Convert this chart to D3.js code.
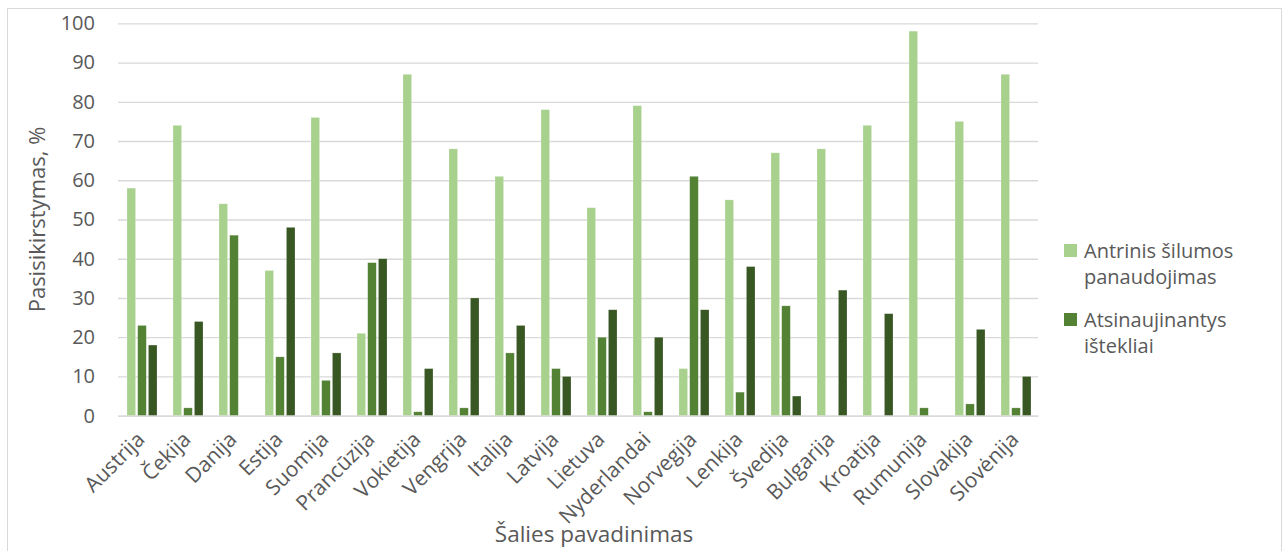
<!DOCTYPE html>
<html>
<head>
<meta charset="utf-8">
<script src="https://cdn.jsdelivr.net/npm/d3@7"></script>
<style>
  html, body { margin: 0; padding: 0; background: #fff; }
  svg { display: block; }
  text { font-family: "Open Sans", sans-serif; fill: #595959; }
</style>
</head>
<body>
<svg id="chart" width="1285" height="551"></svg>
<script>
const countries = ["Austrija","Čekija","Danija","Estija","Suomija","Prancūzija","Vokietija","Vengrija","Italija","Latvija","Lietuva","Nyderlandai","Norvegija","Lenkija","Švedija","Bulgarija","Kroatija","Rumunija","Slovakija","Slovėnija"];
const antrinis =        [58, 74, 54, 37, 76, 21, 87, 68, 61, 78, 53, 79, 12, 55, 67, 68, 74, 98, 75, 87];
const atsinaujinantys = [23,  2, 46, 15,  9, 39,  1,  2, 16, 12, 20,  1, 61,  6, 28,  0,  0,  2,  3,  2];
const trecia =          [18, 24,  0, 48, 16, 40, 12, 30, 23, 10, 27, 20, 27, 38,  5, 32, 26,  0, 22, 10];
const seriesNames = ["Antrinis šilumos panaudojimas", "Atsinaujinantys ištekliai", ""];
const yTicks = [0,10,20,30,40,50,60,70,80,90,100];
const colors = ["#A9D18E", "#548235", "#385723"];

const svg = d3.select("#chart");

// chart border
svg.append("rect").attr("x", 7.5).attr("y", 8.5).attr("width", 1274).attr("height", 560)
  .attr("fill", "none").attr("stroke", "#d9d9d9").attr("stroke-width", 1);

const pLeft = 118, pRight = 1038, pTop = 23.3, pBottom = 415.7;
const x = d3.scaleBand().domain(countries).range([pLeft, pRight]).paddingInner(0).paddingOuter(0);
const y = d3.scaleLinear().domain([0, 100]).range([pBottom, pTop]);
const inner = d3.scaleBand().domain([0,1,2]).range([-14, 16]).paddingInner(0.2).paddingOuter(0);

// gridlines
const yAxis = d3.axisLeft(y).tickValues(yTicks).tickSize(-(pRight - pLeft)).tickPadding(23);
const gy = svg.append("g").attr("transform", `translate(${pLeft},0)`).call(yAxis);
gy.select(".domain").remove();
gy.selectAll(".tick line").attr("stroke", "#d9d9d9").attr("stroke-width", 1.3);
gy.selectAll(".tick text").style("font-size", "20px").attr("fill", "#595959")
  .style("font-family", "'Open Sans', sans-serif");

// bars
const data = [antrinis, atsinaujinantys, trecia];
data.forEach((vals, si) => {
  svg.append("g").selectAll("rect").data(countries).join("rect")
    .attr("x", d => x(d) + x.bandwidth()/2 + inner(si))
    .attr("width", inner.bandwidth())
    .attr("y", (d, i) => y(vals[i]))
    .attr("height", (d, i) => y(0) - y(vals[i]))
    .attr("fill", colors[si])
    .attr("stroke", "#ffffff").attr("stroke-opacity", 0.35).attr("stroke-width", 0.6);
});

// x axis
const xAxis = d3.axisBottom(x).tickSize(0).tickPadding(0);
const gx = svg.append("g").attr("transform", `translate(0,${pBottom})`).call(xAxis);
gx.select(".domain").attr("stroke", "#d9d9d9").attr("stroke-width", 1.3);
gx.selectAll(".tick text")
  .style("font-size", "21px").style("font-family", "'Open Sans', sans-serif").attr("fill", "#595959")
  .attr("text-anchor", "end")
  .attr("dy", null)
  .attr("transform", "translate(5,25) rotate(-45)")
  .attr("y", 0).attr("x", 0);

// axis titles
svg.append("text").attr("transform", `translate(45,${(pTop+pBottom)/2}) rotate(-90)`)
  .attr("text-anchor", "middle").style("font-size", "22px").text("Pasisikirstymas, %");
svg.append("text").attr("x", 594).attr("y", 542).attr("text-anchor", "middle")
  .style("font-size", "22.5px").text("Šalies pavadinimas");

// legend
const legendItems = [
  {color: colors[0], lines: ["Antrinis šilumos", "panaudojimas"], y: 258},
  {color: colors[1], lines: ["Atsinaujinantys", "ištekliai"], y: 327}
];
const lg = svg.append("g");
legendItems.forEach(it => {
  lg.append("rect").attr("x", 1064).attr("y", it.y - 14).attr("width", 13).attr("height", 13).attr("fill", it.color);
  const t = lg.append("text").attr("x", 1084).attr("y", it.y).style("font-size", "20px");
  it.lines.forEach((l, i) => t.append("tspan").attr("x", 1084).attr("dy", i === 0 ? 0 : 26).text(l));
});
</script>
</body>
</html>
